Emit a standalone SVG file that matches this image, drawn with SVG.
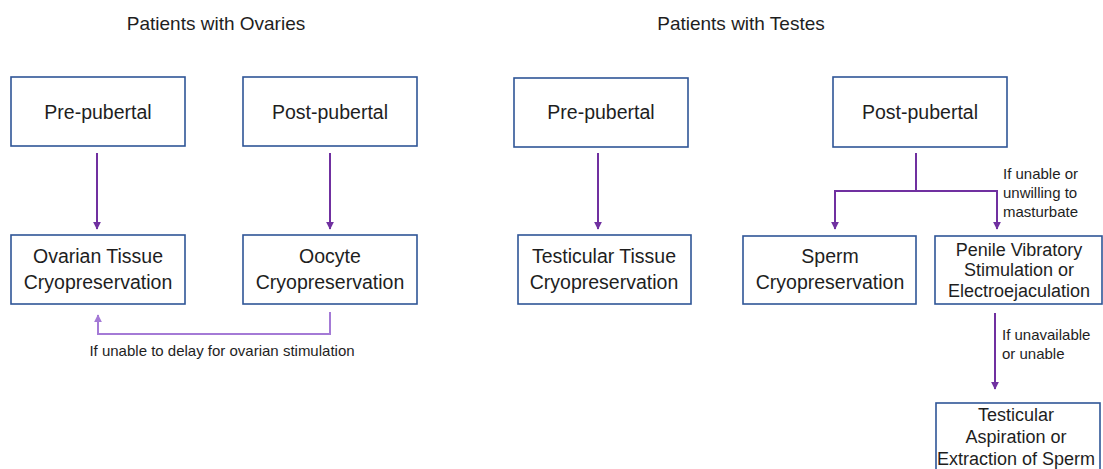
<svg xmlns="http://www.w3.org/2000/svg" width="1103" height="469" viewBox="0 0 1103 469">
<style>
text{font-family:"Liberation Sans",Arial,sans-serif;fill:#1e1e1e}
.box{fill:#fff;stroke:#2f5597;stroke-width:1.6}
.t{font-size:19.5px;text-anchor:middle}
.tb{font-size:18px;text-anchor:middle}
.title{font-size:19px;text-anchor:middle}
.lbl{font-size:15px}
.c{fill:none;stroke:#7030a0;stroke-width:2}
.cl{fill:none;stroke:#a47ad6;stroke-width:2}
</style>
<defs>
<marker id="ah" viewBox="0 0 10 10" refX="9" refY="5" markerWidth="4" markerHeight="4" orient="auto" markerUnits="strokeWidth">
<path d="M0,0 L10,5 L0,10 z" fill="#7030a0"/>
</marker>
<marker id="ahl" viewBox="0 0 10 10" refX="9" refY="5" markerWidth="4" markerHeight="4" orient="auto" markerUnits="strokeWidth">
<path d="M0,0 L10,5 L0,10 z" fill="#a47ad6"/>
</marker>
</defs>
<rect width="1103" height="469" fill="#fff"/>
<text class="title" x="216" y="30">Patients with Ovaries</text>
<text class="title" x="741" y="30">Patients with Testes</text>

<g id="connectors">
<path class="c" d="M97,153 V229" marker-end="url(#ah)"/>
<path class="c" d="M330,153 V229" marker-end="url(#ah)"/>
<path class="cl" d="M330,312 V334 H98 V315" marker-end="url(#ahl)"/>
<path class="c" d="M598,153 V229" marker-end="url(#ah)"/>
<path class="c" d="M916,153 V191"/>
<path class="c" d="M835,191 H997"/>
<path class="c" d="M835,190 V229" marker-end="url(#ah)"/>
<path class="c" d="M997,190 V229" marker-end="url(#ah)"/>
<path class="c" d="M995,313 V389" marker-end="url(#ah)"/>
<text class="lbl" x="222" y="356" text-anchor="middle">If unable to delay for ovarian stimulation</text>
<text class="lbl" font-size="14.5px" x="1003" y="179">If unable or</text>
<text class="lbl" font-size="14.5px" x="1003" y="198">unwilling to</text>
<text class="lbl" font-size="14.5px" x="1003" y="217">masturbate</text>
<text class="lbl" font-size="14.5px" x="1002" y="340">If unavailable</text>
<text class="lbl" font-size="14.5px" x="1002" y="359">or unable</text>
</g>

<g id="ov-pre"><rect class="box" x="11" y="77" width="174" height="69"/><text class="t" x="98" y="119">Pre-pubertal</text></g>
<g id="ov-post"><rect class="box" x="243" y="77" width="174" height="69"/><text class="t" x="330" y="119">Post-pubertal</text></g>
<g id="ov-tissue"><rect class="box" x="11" y="235" width="174" height="69"/><text class="t" x="98" y="263">Ovarian Tissue</text><text class="t" x="98" y="289">Cryopreservation</text></g>
<g id="oocyte"><rect class="box" x="243" y="235" width="174" height="69"/><text class="t" x="330" y="263">Oocyte</text><text class="t" x="330" y="289">Cryopreservation</text></g>

<g id="te-pre"><rect class="box" x="514" y="78" width="174" height="69"/><text class="t" x="601" y="119">Pre-pubertal</text></g>
<g id="te-post"><rect class="box" x="833" y="77" width="174" height="70"/><text class="t" x="920" y="119">Post-pubertal</text></g>
<g id="te-tissue"><rect class="box" x="518" y="235" width="173" height="69"/><text class="t" x="604" y="263">Testicular Tissue</text><text class="t" x="604" y="289">Cryopreservation</text></g>
<g id="sperm"><rect class="box" x="743" y="236" width="173" height="68"/><text class="t" x="830" y="263">Sperm</text><text class="t" x="830" y="289">Cryopreservation</text></g>
<g id="penile"><rect class="box" x="935" y="236" width="167" height="68"/><text class="tb" x="1019" y="256">Penile Vibratory</text><text class="tb" x="1019" y="276">Stimulation or</text><text class="tb" x="1019" y="297">Electroejaculation</text></g>
<g id="tesa"><rect class="box" x="936" y="403" width="164" height="80"/><text class="tb" x="1016" y="421">Testicular</text><text class="tb" x="1016" y="443">Aspiration or</text><text class="tb" x="1016" y="465">Extraction of Sperm</text></g>
</svg>
